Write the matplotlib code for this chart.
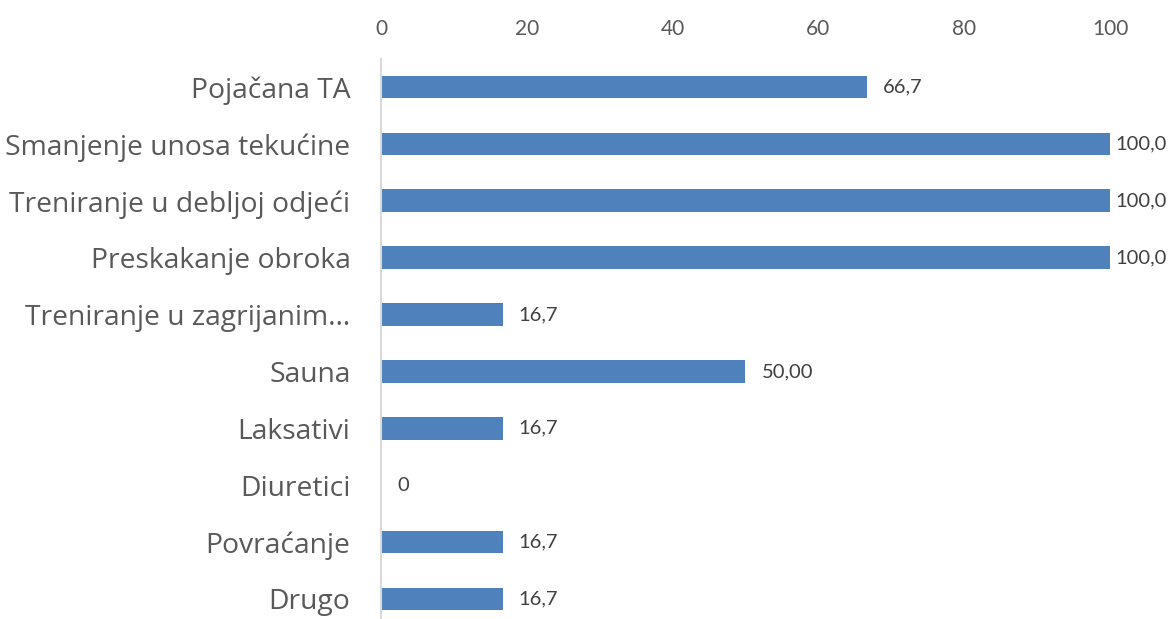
import matplotlib.pyplot as plt
import numpy as np

categories = ['Pojačana TA', 'Smanjenje unosa tekućine', 'Treniranje u debljoj odjeći',
              'Preskakanje obroka', 'Treniranje u zagrijanim…', 'Sauna', 'Laksativi',
              'Diuretici', 'Povraćanje', 'Drugo']
values = [66.7, 100.0, 100.0, 100.0, 16.7, 50.0, 16.7, 0, 16.7, 16.7]
value_labels = ['66,7', '100,0', '100,0', '100,0', '16,7', '50,00', '16,7', '0', '16,7', '16,7']
ticks = [0, 20, 40, 60, 80, 100]

fig = plt.figure(figsize=(11.71, 6.19), dpi=100)
ax = fig.add_axes([381 / 1171, -0.0136, (1110 - 381) / 1171, 0.9053 + 0.0136])

y = np.arange(len(categories))
ax.barh(y, values, height=0.4, color='#4f81bd')
ax.set_ylim(len(categories) - 0.5, -0.5)
ax.set_xlim(0, 100)

ax.xaxis.tick_top()
ax.set_xticks(ticks)
ax.set_xticklabels([str(t) for t in ticks], family='Lato', fontsize=15, color='#595959')
ax.tick_params(axis='x', length=0, pad=14)

ax.set_yticks(y)
ax.set_yticklabels(categories, family='Open Sans', fontsize=20.3, color='#595959')
ax.tick_params(axis='y', length=0, pad=22)

for s in ['top', 'right', 'bottom']:
    ax.spines[s].set_visible(False)
ax.spines['left'].set_color('#d9d9d9')
ax.spines['left'].set_linewidth(1.5)

# data labels, Excel squeezes the 100 ones against the edge
for i, (v, lab) in enumerate(zip(values, value_labels)):
    off = 5 if v >= 100 else 16
    ax.annotate(lab, (v, i), xytext=(off, 0), textcoords='offset pixels',
                ha='left', va='center', family='Lato', fontsize=14.5, color='#404040',
                annotation_clip=False)

fig.savefig('out.png', dpi=100)
